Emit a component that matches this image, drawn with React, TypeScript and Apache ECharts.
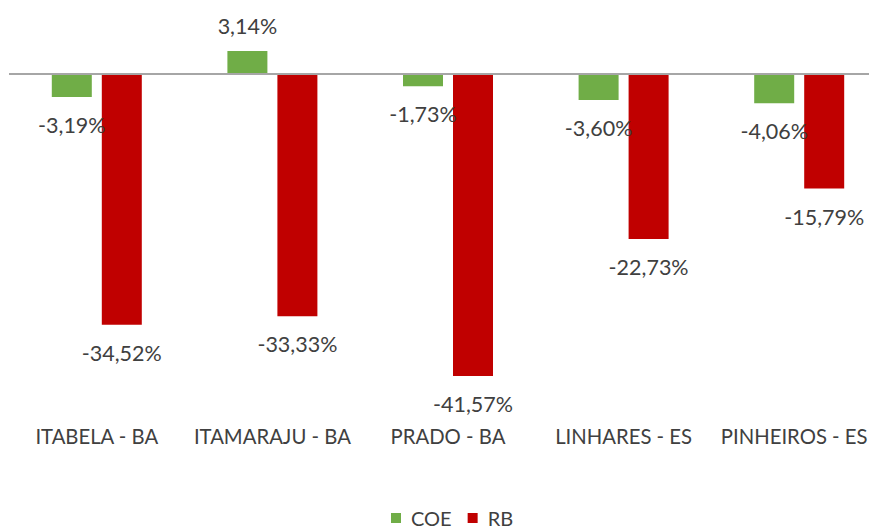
import React, { useEffect, useRef } from "react";
import * as echarts from "echarts";

const categories = ["ITABELA - BA", "ITAMARAJU - BA", "PRADO - BA", "LINHARES - ES", "PINHEIROS - ES"];
const coeValues = [-3.19, 3.14, -1.73, -3.6, -4.06];
const rbValues = [-34.52, -33.33, -41.57, -22.73, -15.79];
const seriesNames = ["COE", "RB"];

const FONT = "Lato";
const FS = 21.5;
const AXIS_FS = 20.3;
const TEXT = "#404040";

const fmt = (v: number) => v.toFixed(2).replace(".", ",") + "%";

const toData = (arr: number[]) =>
  arr.map((v) => ({
    value: v,
    label: v >= 0 ? { position: "top", distance: 14 } : { position: "bottom", distance: 17 },
  }));

// last category label is nudged left so it stays inside the picture (as in the reference)
const categoryData = categories.map((c, i) =>
  i === categories.length - 1 ? { value: c, textStyle: { padding: [0, 10, 0, 0] } } : c
);

export default function App() {
  const ref = useRef<HTMLDivElement>(null);
  useEffect(() => {
    if (!ref.current) return;
    const chart = echarts.init(ref.current, null, { renderer: "svg" });
    const labelCommon = {
      show: true,
      color: TEXT,
      fontFamily: FONT,
      fontSize: FS,
      formatter: (p: any) => fmt(p.value),
    };
    chart.setOption({
      animation: false,
      backgroundColor: "#ffffff",
      textStyle: { fontFamily: FONT },
      grid: { left: 9, right: 0, top: 1, height: 400, containLabel: false },
      legend: {
        data: seriesNames,
        left: 391,
        bottom: 1,
        padding: 0,
        icon: "rect",
        itemWidth: 10,
        itemHeight: 10,
        itemGap: 16,
        textStyle: { color: TEXT, fontFamily: FONT, fontSize: 20, padding: [0, 0, 0, 5] },
      },
      xAxis: {
        type: "category",
        data: categoryData,
        axisLine: { show: false, onZero: false },
        axisTick: { show: false },
        axisLabel: { color: TEXT, fontFamily: FONT, fontSize: AXIS_FS, margin: 25, interval: 0 },
      },
      yAxis: {
        type: "value",
        min: -45,
        max: 10,
        show: false,
        splitLine: { show: false },
      },
      series: [
        {
          name: seriesNames[0],
          type: "bar",
          data: toData(coeValues),
          itemStyle: { color: "#70AD47" },
          barWidth: 40,
          barGap: "25%",
          label: labelCommon,
          z: 2,
        },
        {
          name: seriesNames[1],
          type: "bar",
          data: toData(rbValues),
          itemStyle: { color: "#C00000" },
          barWidth: 40,
          barGap: "25%",
          label: labelCommon,
          z: 2,
          markLine: {
            silent: true,
            symbol: "none",
            label: { show: false },
            lineStyle: { color: "#A6A6A6", width: 2, type: "solid" },
            data: [{ yAxis: 0 }],
            z: 3,
          },
        },
      ],
    });
    return () => chart.dispose();
  }, []);
  return (
    <div
      style={{
        position: "fixed",
        left: 0,
        top: 0,
        width: 869,
        height: 529,
        overflow: "hidden",
        background: "#fff",
      }}
    >
      <div ref={ref} style={{ width: 887, height: 529 }} />
    </div>
  );
}
